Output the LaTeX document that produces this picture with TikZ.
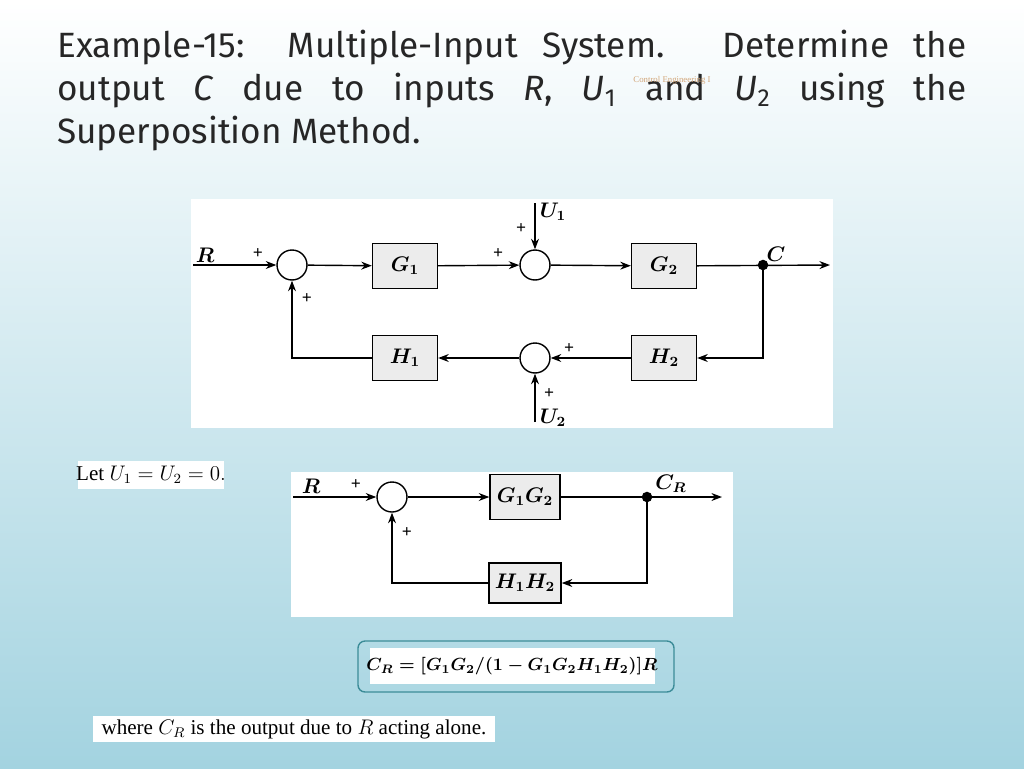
\documentclass[tikz,border=0pt]{standalone}
\usepackage{fontspec}
\setmainfont{Liberation Serif}
\newfontfamily\titlefont{Fira Sans}
\usetikzlibrary{positioning,arrows.meta}
\definecolor{bgblue}{HTML}{A3D3E0}
\definecolor{boxteal}{HTML}{3C8C98}
\tikzset{
  blk/.style={draw,thick,fill=gray!15,minimum width=1.3cm,minimum height=0.9cm,font=\bfseries\boldmath\large},
  sumc/.style={draw,thick,circle,minimum size=0.6cm,inner sep=0pt,fill=white},
  sig/.style={-{Stealth[length=6pt]},thick},
  lbl/.style={font=\bfseries\boldmath\large},
  pm/.style={font=\bfseries},
  panel/.style={fill=white,draw=none}
}
\begin{document}
\begin{tikzpicture}[x=0.02cm,y=-0.02cm]
\shade[top color=white,bottom color=bgblue] (0,0) rectangle (1024,768);
\useasboundingbox (0,0) rectangle (1024,768);
% title
\node[anchor=north west,text width=909*0.02cm,align=justify,inner sep=0pt,font=\titlefont\fontsize{20}{24.4}\selectfont,text=black!85] (title) at (57,30)
 {\hyphenpenalty=10000 Example-15: Multiple-Input System. Determine the\linebreak output \textit{C} due to inputs \textit{R}, \textit{U}\textsubscript{1} and \textit{U}\textsubscript{2} using the\linebreak Superposition Method.};
\node[font=\tiny,text=brown!70] (tag) at (672,80) {Control Engineering I};
% first diagram
\fill[panel] (191,199) rectangle (833,428);
\node[sumc] (s1) at (292,265) {};
\node[sumc] (s2) at (535,265) {};
\node[sumc] (s3) at (535,358) {};
\node[blk] (g1) at (405,266) {$G_1$};
\node[blk] (g2) at (664,266) {$G_2$};
\node[blk] (h1) at (405,358) {$H_1$};
\node[blk] (h2) at (664,358) {$H_2$};
\coordinate (rin) at (193,265);
\coordinate (cout) at (830,265);
\coordinate (u1in) at (535,203);
\coordinate (u2in) at (535,422);
\fill (763,265) circle (3pt) coordinate (cb);
\draw[sig] (rin) -- (s1);
\draw[sig] (s1) -- (g1);
\draw[sig] (g1) -- (s2);
\draw[sig] (s2) -- (g2);
\draw[sig] (g2) -- (cout);
\draw[sig] (u1in) -- (s2);
\draw[sig] (cb) |- (h2);
\draw[sig] (h2) -- (s3);
\draw[sig] (u2in) -- (s3);
\draw[sig] (s3) -- (h1);
\draw[sig] (h1) -| (s1);
\node[lbl] (rl) at (205,255) {$R$};
\node[lbl] (cl) at (776,254) {$C$};
\node[lbl] (u1l) at (553,212) {$U_1$};
\node[lbl] (u2l) at (553,418) {$U_2$};
\node[pm] at (258,254) {+};
\node[pm] at (307,299) {+};
\node[pm] at (498,254) {+};
\node[pm] at (521,229) {+};
\node[pm] at (569,349) {+};
\node[pm] at (549,394) {+};
% let
\fill[panel] (78,461) rectangle (224,489);
\node[font=\large] (let) at (151,475) {Let $U_1=U_2=0.$};
% second diagram
\fill[panel] (291,472) rectangle (733,617);
\node[sumc] (t1) at (392,497) {};
\node[blk,minimum width=1.4cm] (gg) at (525,497) {$G_1G_2$};
\node[blk,minimum width=1.4cm,minimum height=0.8cm] (hh) at (525,583) {$H_1H_2$};
\coordinate (rin2) at (293,497);
\coordinate (cout2) at (722,497);
\fill (647,497) circle (3pt) coordinate (cb2);
\draw[sig] (rin2) -- (t1);
\draw[sig] (t1) -- (gg);
\draw[sig] (gg) -- (cout2);
\draw[sig] (cb2) |- (hh);
\draw[sig] (hh) -| (t1);
\node[lbl] at (311,486) {$R$};
\node[lbl] at (671,484) {$C_R$};
\node[pm] at (356,485) {+};
\node[pm] at (407,533) {+};
% result
\draw[boxteal,thick,rounded corners=4pt] (358,641) rectangle (674,692);
\fill[panel] (370,648) rectangle (655,684);
\node[font=\bfseries\boldmath] (res) at (512,666) {$C_R=[G_1G_2/(1-G_1G_2H_1H_2)]R$};
\fill[panel] (93,716) rectangle (495,742);
\node[font=\large] (note) at (294,729) {where $C_R$ is the output due to $R$ acting alone.};
\end{tikzpicture}
\end{document}
